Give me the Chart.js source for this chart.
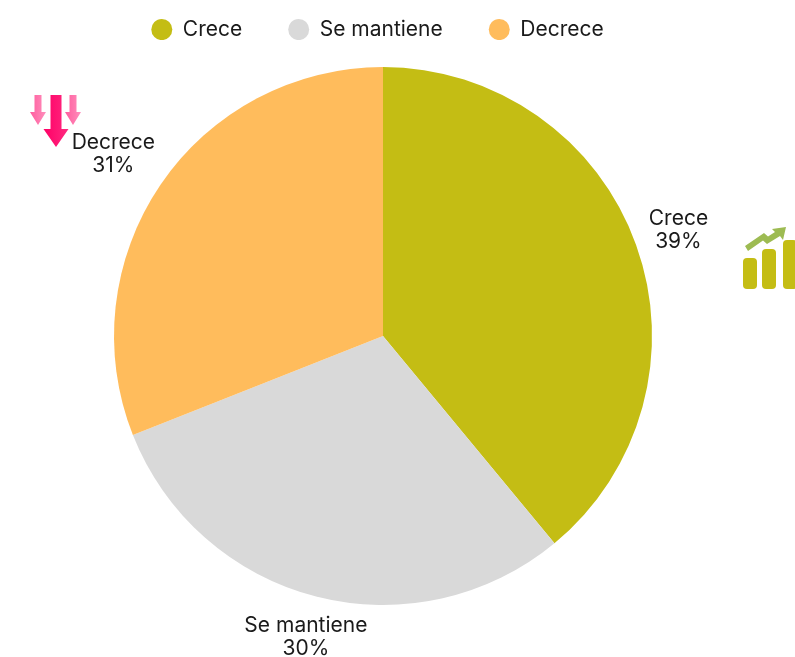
<!DOCTYPE html>
<html><head><meta charset="utf-8">
<style>html,body{margin:0;padding:0;background:#fff}canvas{display:block}</style>
<script src="https://cdn.jsdelivr.net/npm/chart.js@4"></script>
</head><body><canvas id="c" width="795" height="657"></canvas>
<script>
const categories = ["Crece", "Se mantiene", "Decrece"];
const values = [39, 30, 31];
const colors = ["#C4BD14", "#D9D9D9", "#FFBC5C"];
const labelGaps = [45, 41, 57];
const FONT = "Inter, sans-serif";
const TEXT = "#1a1a1a";

const legendPlacement = {
  id: "legendPlacement",
  beforeLayout(chart) {
    const l = chart.legend;
    if (l.__placed) return;
    l.__placed = true;
    const fit = l.fit.bind(l), draw = l.draw.bind(l);
    l.fit = function () { this.maxWidth = 795; fit(); this.height = 67; };
    l.draw = function () {
      const ctx = chart.ctx;
      ctx.save();
      ctx.translate(-20, -27);
      this.left = 0;
      this.right = 795;
      draw();
      ctx.restore();
    };
  }
};

const outerLabels = {
  id: "outerLabels",
  afterDatasetsDraw(chart) {
    const ctx = chart.ctx;
    const meta = chart.getDatasetMeta(0);
    const total = values.reduce((a, b) => a + b, 0);
    ctx.save();
    ctx.font = "21px " + FONT;
    ctx.fillStyle = TEXT;
    ctx.textAlign = "center";
    ctx.textBaseline = "middle";
    meta.data.forEach((arc, i) => {
      const mid = (arc.startAngle + arc.endAngle) / 2;
      const r = arc.outerRadius + labelGaps[i];
      const x = arc.x + Math.cos(mid) * r;
      const y = arc.y + Math.sin(mid) * r + 1;
      ctx.fillText(categories[i], x, y - 11.5);
      ctx.fillText(Math.round(values[i] / total * 100) + "%", x, y + 11.5);
    });
    ctx.restore();
  }
};

function arrow(ctx, cx, top, shaftW, shaftBottom, headW, tip, c1, c2) {
  const g = ctx.createLinearGradient(cx - headW / 2, 0, cx + headW / 2, 0);
  g.addColorStop(0, c1); g.addColorStop(1, c2);
  ctx.fillStyle = g;
  ctx.beginPath();
  ctx.moveTo(cx - shaftW / 2, top);
  ctx.lineTo(cx + shaftW / 2, top);
  ctx.lineTo(cx + shaftW / 2, shaftBottom);
  ctx.lineTo(cx + headW / 2, shaftBottom);
  ctx.lineTo(cx, tip);
  ctx.lineTo(cx - headW / 2, shaftBottom);
  ctx.lineTo(cx - shaftW / 2, shaftBottom);
  ctx.closePath();
  ctx.fill();
}

const icons = {
  id: "icons",
  afterDraw(chart) {
    const ctx = chart.ctx;
    ctx.save();
    arrow(ctx, 38, 95, 7, 112, 16, 125, "#FF5C9E", "#FF8FBC");
    arrow(ctx, 73, 95, 7, 112, 16, 125, "#FF5C9E", "#FF8FBC");
    arrow(ctx, 56, 95, 11, 129, 25, 147, "#FF0066", "#FF2A80");
    ctx.fillStyle = "#C4BD14";
    [[743, 258, 14, 31], [762, 249, 14, 40], [783, 240, 14, 49]].forEach(b => {
      ctx.beginPath();
      ctx.roundRect(b[0], b[1], b[2], b[3], 4);
      ctx.fill();
    });
    ctx.fillStyle = "#9DBB52";
    ctx.beginPath();
    ctx.moveTo(745, 246); ctx.lineTo(764, 233); ctx.lineTo(768, 236.5);
    ctx.lineTo(775, 232); ctx.lineTo(772, 229); ctx.lineTo(786, 227);
    ctx.lineTo(783, 240); ctx.lineTo(780, 236); ctx.lineTo(767, 244);
    ctx.lineTo(763, 240.5); ctx.lineTo(748, 251);
    ctx.closePath();
    ctx.fill();
    ctx.restore();
  }
};

new Chart(document.getElementById("c"), {
  type: "pie",
  data: {
    labels: categories,
    datasets: [{ data: values, backgroundColor: colors, borderWidth: 0 }]
  },
  options: {
    responsive: false,
    animation: false,
    layout: { padding: { left: 114, right: 143, top: 0, bottom: 52 } },
    plugins: {
      tooltip: { enabled: false },
      legend: {
        position: "top",
        align: "center",
        labels: {
          usePointStyle: true,
          pointStyle: "circle",
          boxHeight: 15,
          pointStyleWidth: 21,
          padding: 46,
          color: TEXT,
          font: { family: FONT, size: 21 }
        }
      }
    }
  },
  plugins: [legendPlacement, outerLabels, icons]
});
</script></body></html>
